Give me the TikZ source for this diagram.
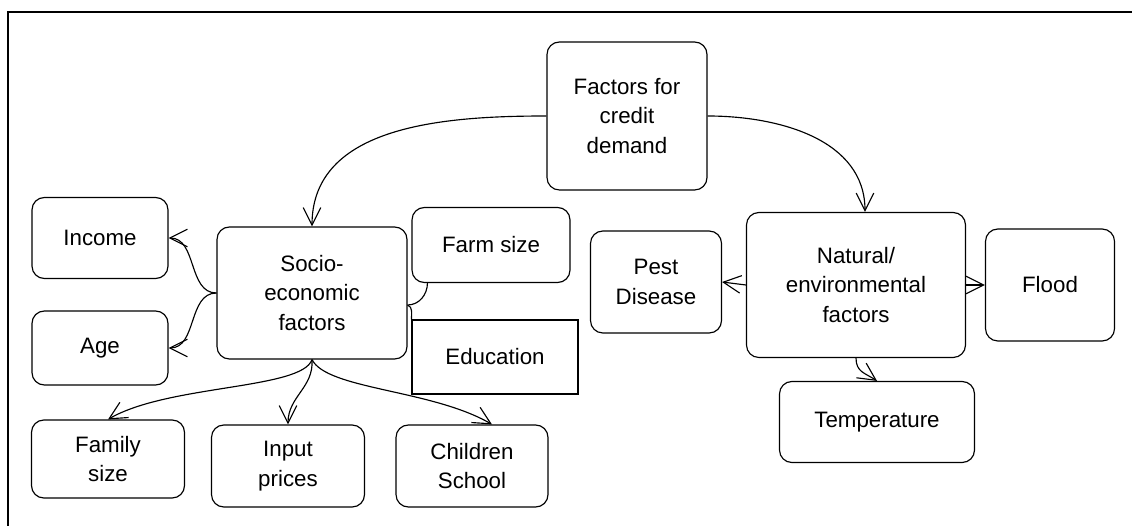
\documentclass[tikz,border=0pt]{standalone}
\usepackage{fontspec}
\setmainfont{Liberation Sans}
\usetikzlibrary{arrows.meta}

\begin{document}
\begin{tikzpicture}[
		x=0.02cm, y=-0.02cm,
		box/.style={draw, rounded corners=7pt, line width=0.65pt, align=center, inner sep=0pt, font=\fontsize{12.7}{17}\selectfont},
		plainbox/.style={box, sharp corners},
		arr/.style={-{Straight Barb[length=10pt, width=10pt]}},
		link/.style={line width=0.65pt}
	]
	\useasboundingbox (0,0) rectangle (1132,526);
	\draw[line width=1.1pt] (8,526) -- (8,12) -- (1132,12);

	\node[box, minimum width=3.2cm, minimum height=2.96cm] (factors) at (627,116) {Factors for\\credit\\demand};

	\node[box, minimum width=3.8cm, minimum height=2.64cm] (socio) at (312,293) {Socio-\\economic\\factors};
	\node[box, minimum width=4.38cm, minimum height=2.9cm] (natural) at (856,285) {Natural/\\environmental\\factors};

	\node[box, minimum width=2.72cm, minimum height=1.62cm] (income) at (100,238) {Income};
	\node[box, minimum width=2.72cm, minimum height=1.48cm] (age) at (100,348) {Age};
	\node[box, minimum width=3.16cm, minimum height=1.5cm] (farm) at (491,245) {Farm size};
	\node[plainbox, minimum width=3.32cm, minimum height=1.48cm] (educ) at (495,357) {Education};

	\node[box, minimum width=3.06cm, minimum height=1.56cm] (family) at (108,459) {Family\\size};
	\node[box, minimum width=3.06cm, minimum height=1.64cm] (input) at (288,466) {Input\\prices};
	\node[box, minimum width=3.04cm, minimum height=1.64cm] (children) at (472,466) {Children\\School};

	\node[box, minimum width=2.62cm, minimum height=2.04cm] (pest) at (656,282) {Pest\\Disease};
	\node[box, minimum width=2.58cm, minimum height=2.24cm] (flood) at (1050,285) {Flood};
	\node[box, minimum width=3.9cm, minimum height=1.62cm] (temp) at (877,422) {Temperature};

	% top level
	\draw[link, arr] (factors.west) to[out=180, in=90] (socio.north);
	\draw[link, arr] (factors.east) to[out=0, in=90] ([xshift=0.18cm]natural.north);

	% socio-economic branches
	\draw[link, arr] (socio.west) to[out=180, in=0] (income.east);
	\draw[link, arr] (socio.west) to[out=180, in=0] (age.east);
	\draw[link] ([yshift=-0.24cm]socio.east) to[out=0, in=-90] ([xshift=0.32cm]farm.south west);
	\draw[link] ([yshift=-0.24cm]socio.east) to[out=-20, in=90] (educ.north west);
	\draw[link, arr] (socio.south) .. controls +(-10,30) and +(60,-35) .. (family.north);
	\draw[link, arr] (socio.south) .. controls +(2,28) and +(0,-28) .. (input.north);
	\draw[link, arr] (socio.south) .. controls +(15,30) and +(-60,-35) .. ([xshift=0.4cm]children.north);

	% natural branches
	\draw[link, arr] (natural.west) -- (pest.east);
	\draw[link, arr] (natural.east) -- (flood.west);
	\draw[link, arr] (natural.south) .. controls +(0,14) and +(-12,-8) .. (temp.north);
\end{tikzpicture}
\end{document}
